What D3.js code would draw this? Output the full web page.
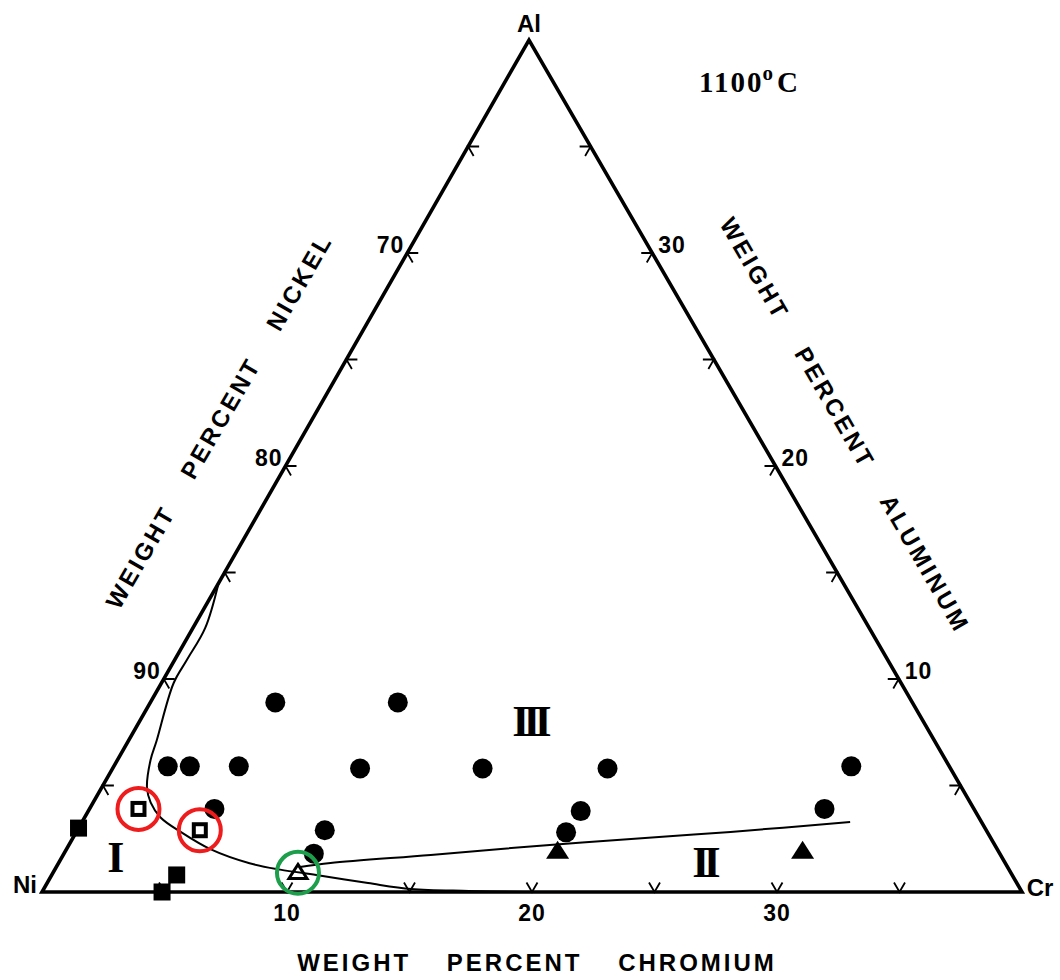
<!DOCTYPE html>
<html>
<head>
<meta charset="utf-8">
<script src="https://cdn.jsdelivr.net/npm/d3@7"></script>
<style>
  html, body { margin: 0; padding: 0; background: #fff; }
  svg { display: block; }
</style>
</head>
<body>
<svg id="chart" width="1060" height="980"></svg>
<script>
// ---------- DATA (compositions in wt%: [Cr, Al], Ni = balance) ----------
const tickValues = [5, 10, 15, 20, 25, 30, 35];
const nickelTickLabels = [90, 80, 70];
const aluminumTickLabels = [10, 20, 30];
const chromiumTickLabels = [10, 20, 30];

const circlePts = [[5.1, 8.9], [10.1, 8.9], [2.2, 5.9], [3.1, 5.9], [5.1, 5.9],
  [10.1, 5.8], [15.1, 5.8], [20.2, 5.8], [5.1, 3.9], [10.1, 2.9], [10.2, 1.8],
  [20.1, 3.8], [20.0, 2.8], [30.1, 5.9], [30.0, 3.9]];
const filledSquarePts = [[0.0, 3.0], [5.1, 0.8], [4.9, 0.0]];
const openSquarePts = [[2.0, 3.9], [5.0, 2.9]];
const filledTrianglePts = [[20.1, 1.9], [30.1, 1.9]];
const openTrianglePts = [[10.0, 0.9]];

const boundaryCurveI = [[0, 14.5], [0.5, 12.4], [0.5, 10.9], [0.5, 9.8], [1.15, 7.1],
  [1.35, 6.2], [1.85, 4.9], [2.35, 4.2], [3.1, 3.5], [4.3, 2.8], [5.9, 2.0],
  [7.8, 1.35], [9.2, 1.05], [10.8, 0.8], [13.1, 0.42], [15.0, 0.14], [17.4, 0.05], [19.7, 0]];
const boundaryCurveII = [[9.95, 1.17], [11.1, 1.36], [15.0, 1.74], [19.5, 2.2],
  [23.9, 2.58], [26.7, 2.82], [31.35, 3.29]];

const regionLabels = [
  { text: "I", cr: 2.1, al: 1.6 },
  { text: "II", cr: 26.3, al: 1.4 },
  { text: "III", cr: 15.9, al: 8.0 }
];
const cornerNames = { ni: "Ni", cr: "Cr", al: "Al" };
const temperatureLabel = "1100";
const axisTitles = {
  ni: "WEIGHT PERCENT NICKEL",
  al: "WEIGHT PERCENT ALUMINUM",
  cr: "WEIGHT PERCENT CHROMIUM"
};

// ---------- LAYOUT ----------
const NI = { x: 42, y: 892 }, CR = { x: 1022, y: 892 }, AL = { x: 529, y: 40 };
const MAXP = 40;

const xCr = d3.scaleLinear().domain([0, MAXP]).range([NI.x, CR.x]);
const xAlShift = d3.scaleLinear().domain([0, MAXP]).range([0, AL.x - NI.x]);
const yAl = d3.scaleLinear().domain([0, MAXP]).range([NI.y, AL.y]);
const P = (cr, al) => [xCr(cr) + xAlShift(al), yAl(al)];

const svg = d3.select("#chart");
const bold = "'Liberation Sans', Arial, sans-serif";

// triangle
svg.append("path")
  .attr("d", d3.line()([P(0, 0), P(MAXP, 0), P(0, MAXP)]) + "Z")
  .attr("fill", "none").attr("stroke", "#000").attr("stroke-width", 3.6)
  .attr("stroke-linejoin", "miter");

// ticks: stubs along the two grid directions pointing inward
const L = 11;
const dirs = {
  right: [1, 0], left: [-1, 0],
  upRight: [0.5, -0.866], upLeft: [-0.5, -0.866],
  downRight: [0.5, 0.866], downLeft: [-0.5, 0.866]
};
function stub(pt, d1, d2) {
  return `M${pt[0] + d1[0] * L},${pt[1] + d1[1] * L}L${pt[0]},${pt[1]}L${pt[0] + d2[0] * L},${pt[1] + d2[1] * L}`;
}
const tickG = svg.append("g").attr("fill", "none").attr("stroke", "#000").attr("stroke-width", 1.8);
tickValues.forEach(v => {
  tickG.append("path").attr("d", stub(P(v, 0), dirs.upLeft, dirs.upRight));       // bottom
  tickG.append("path").attr("d", stub(P(0, v), dirs.right, dirs.downRight));      // left
  tickG.append("path").attr("d", stub(P(MAXP - v, v), dirs.left, dirs.downLeft)); // right
});

// curves
const lineGen = d3.line().x(d => P(d[0], d[1])[0]).y(d => P(d[0], d[1])[1]).curve(d3.curveCatmullRom.alpha(0.5));
[boundaryCurveI, boundaryCurveII].forEach(c => {
  svg.append("path").attr("d", lineGen(c)).attr("fill", "none")
    .attr("stroke", "#000").attr("stroke-width", 2);
});

// markers
svg.append("g").selectAll("circle").data(circlePts).join("circle")
  .attr("cx", d => P(d[0], d[1])[0]).attr("cy", d => P(d[0], d[1])[1])
  .attr("r", 10).attr("fill", "#000");

const sq = 17;
svg.append("g").selectAll("rect").data(filledSquarePts).join("rect")
  .attr("x", d => P(d[0], d[1])[0] - sq / 2).attr("y", d => P(d[0], d[1])[1] - sq / 2)
  .attr("width", sq).attr("height", sq).attr("fill", "#000");

const osq = 12;
svg.append("g").selectAll("rect").data(openSquarePts).join("rect")
  .attr("x", d => P(d[0], d[1])[0] - osq / 2).attr("y", d => P(d[0], d[1])[1] - osq / 2)
  .attr("width", osq).attr("height", osq).attr("fill", "#fff")
  .attr("stroke", "#000").attr("stroke-width", 4);

const triPath = (cx, cy, w, h) => `M${cx},${cy - h * 0.6}L${cx + w / 2},${cy + h * 0.4}L${cx - w / 2},${cy + h * 0.4}Z`;
svg.append("g").selectAll("path").data(filledTrianglePts).join("path")
  .attr("d", d => { const p = P(d[0], d[1]); return triPath(p[0], p[1], 23, 18); })
  .attr("fill", "#000");
svg.append("g").selectAll("path").data(openTrianglePts).join("path")
  .attr("d", d => { const p = P(d[0], d[1]); return triPath(p[0], p[1], 18, 14); })
  .attr("fill", "none").attr("stroke", "#000").attr("stroke-width", 3);

// annotation rings
svg.append("g").selectAll("circle").data(openSquarePts).join("circle")
  .attr("cx", d => P(d[0], d[1])[0]).attr("cy", d => P(d[0], d[1])[1])
  .attr("r", 21).attr("fill", "none").attr("stroke", "#ee1c1c").attr("stroke-width", 4);
svg.append("g").selectAll("circle").data(openTrianglePts).join("circle")
  .attr("cx", d => P(d[0], d[1])[0]).attr("cy", d => P(d[0], d[1])[1])
  .attr("r", 21).attr("fill", "none").attr("stroke", "#1c9e4b").attr("stroke-width", 4);

// tick labels
const labelStyle = s => s.attr("font-family", bold).attr("font-weight", "bold")
  .attr("font-size", 23).attr("letter-spacing", 1).attr("fill", "#000");
nickelTickLabels.forEach(n => {
  const p = P(0, 100 - n);
  svg.append("text").text(n).call(labelStyle)
    .attr("x", p[0] - 3).attr("y", p[1] - 8)
    .attr("text-anchor", "end").attr("dominant-baseline", "central");
});
aluminumTickLabels.forEach(a => {
  const p = P(MAXP - a, a);
  svg.append("text").text(a).call(labelStyle)
    .attr("x", p[0] + 6).attr("y", p[1] - 8)
    .attr("text-anchor", "start").attr("dominant-baseline", "central");
});
chromiumTickLabels.forEach(c => {
  const p = P(c, 0);
  svg.append("text").text(c).call(labelStyle)
    .attr("x", p[0]).attr("y", p[1] + 21)
    .attr("text-anchor", "middle").attr("dominant-baseline", "central");
});

// corner labels
const cornerStyle = s => s.attr("font-family", bold).attr("font-weight", "bold")
  .attr("font-size", 24).attr("fill", "#000").attr("text-anchor", "middle")
  .attr("dominant-baseline", "central");
svg.append("text").text(cornerNames.ni).call(cornerStyle).attr("x", NI.x - 17).attr("y", NI.y - 8);
svg.append("text").text(cornerNames.cr).call(cornerStyle).attr("x", CR.x + 18).attr("y", CR.y - 5);
svg.append("text").text(cornerNames.al).call(cornerStyle).attr("x", AL.x).attr("y", AL.y - 17);

// temperature label
const temp = svg.append("text").attr("x", 699).attr("y", 92)
  .attr("font-family", "'Liberation Serif', 'DejaVu Serif', serif").attr("font-weight", "bold")
  .attr("font-size", 29).attr("letter-spacing", 2).attr("fill", "#000");
temp.append("tspan").text(temperatureLabel);
temp.append("tspan").text("o").attr("font-size", 21).attr("dy", -12).attr("dx", -1);
temp.append("tspan").text("C").attr("dy", 12).attr("dx", 2);

// axis titles
const titleStyle = s => s.attr("font-family", bold).attr("font-weight", "bold")
  .attr("font-size", 24).attr("letter-spacing", 3).attr("word-spacing", 26)
  .attr("fill", "#000").attr("text-anchor", "middle").attr("dominant-baseline", "central");
svg.append("text").text(axisTitles.ni).call(titleStyle)
  .attr("transform", "translate(219,421) rotate(-60)");
svg.append("text").text(axisTitles.al).call(titleStyle)
  .attr("transform", "translate(845,425) rotate(60)");
svg.append("text").text(axisTitles.cr).call(titleStyle)
  .attr("x", 537).attr("y", 962);

// region labels (roman numerals with joined serif bars)
regionLabels.forEach(r => {
  const p = P(r.cr, r.al);
  svg.append("text").text(r.text)
    .attr("x", p[0]).attr("y", p[1])
    .attr("font-family", "'Liberation Serif', 'DejaVu Serif', serif").attr("font-weight", "bold")
    .attr("font-size", 44).attr("letter-spacing", -6)
    .attr("text-anchor", "middle").attr("dominant-baseline", "central").attr("fill", "#000");
});
</script>
</body>
</html>
